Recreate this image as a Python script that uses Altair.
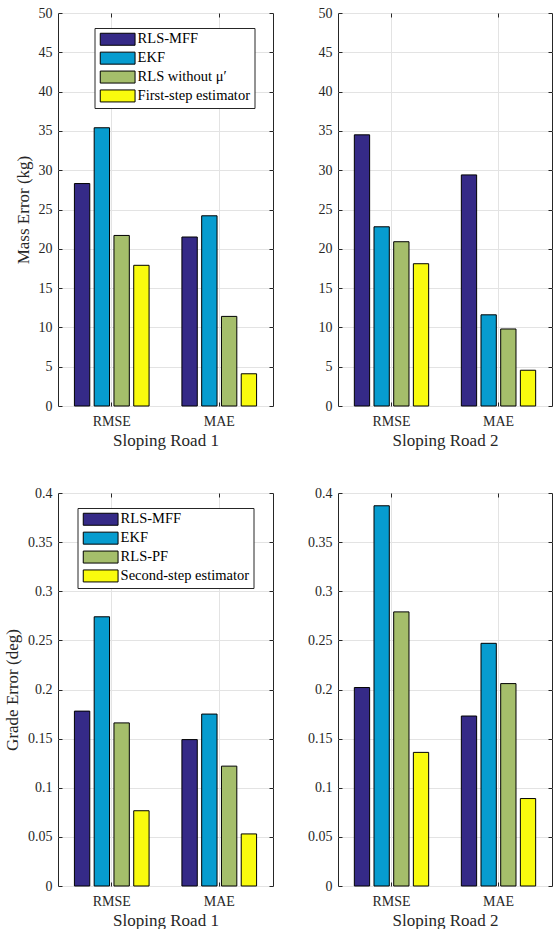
import altair as alt
import pandas as pd

metrics = ["RMSE", "MAE"]
mass_methods = ["RLS-MFF", "EKF", "RLS without μ′", "First-step estimator"]
grade_methods = ["RLS-MFF", "EKF", "RLS-PF", "Second-step estimator"]
colors = ["#352A87", "#079CCF", "#A5BE6B", "#F9FB0E"]

mass_road1_rmse = [28.3, 35.4, 21.7, 17.9]
mass_road1_mae = [21.5, 24.2, 11.4, 4.1]
mass_road2_rmse = [34.5, 22.8, 20.9, 18.1]
mass_road2_mae = [29.4, 11.6, 9.8, 4.55]
grade_road1_rmse = [0.178, 0.274, 0.166, 0.0766]
grade_road1_mae = [0.149, 0.175, 0.122, 0.053]
grade_road2_rmse = [0.202, 0.387, 0.279, 0.136]
grade_road2_mae = [0.173, 0.247, 0.206, 0.089]

mass_ticks = [0, 5, 10, 15, 20, 25, 30, 35, 40, 45, 50]
grade_ticks = [0, 0.05, 0.1, 0.15, 0.2, 0.25, 0.3, 0.35, 0.4]

FONT = "Liberation Serif"
TXT = "#262626"
GRID = "#e3e3e3"


def panel(methods, rmse, mae, ytitle, xtitle, ticks, fmt, width, legend_x):
    df = pd.DataFrame({
        "metric": ["RMSE"] * 4 + ["MAE"] * 4,
        "method": methods * 2,
        "value": rmse + mae,
    })
    base = alt.Chart(df)
    xscale = alt.Scale(paddingInner=0, paddingOuter=0)
    yscale = alt.Scale(domain=[ticks[0], ticks[-1]], nice=False)
    if legend_x is not None:
        legend = alt.Legend(
            title=None, orient="none", legendX=legend_x, legendY=15,
            symbolType="M-2.9,-1H2.9V1H-2.9Z", symbolSize=144,
            symbolOffset=11.9,
            symbolStrokeColor="#000", symbolStrokeWidth=1, symbolOpacity=1,
            labelFont=FONT, labelFontSize=14.5, labelColor="#000",
            labelLimit=400, labelOffset=12.7, padding=4, rowPadding=1.9,
            fillColor="#ffffff", strokeColor="#262626",
        )
    else:
        legend = None
    bars = base.mark_bar(stroke="#000", strokeWidth=1, opacity=1).encode(
        x=alt.X("metric:N", sort=metrics, scale=xscale,
                axis=alt.Axis(title=xtitle, orient="bottom", bandPosition=0.5,
                              grid=True, gridColor=GRID, offset=-4, tickSize=4,
                              tickColor=TXT, domain=False, labelAngle=0,
                              labelFont=FONT, labelFontSize=14, labelColor=TXT,
                              labelPadding=8, titleFont=FONT, titleFontSize=17,
                              titleFontWeight="normal", titleColor=TXT,
                              titlePadding=4)),
        xOffset=alt.XOffset("method:N", sort=methods,
                            scale=alt.Scale(domain=methods, paddingInner=0.223,
                                            paddingOuter=0.83)),
        y=alt.Y("value:Q", scale=yscale,
                axis=alt.Axis(title=ytitle, orient="left", values=ticks, format=fmt,
                              grid=True, gridColor=GRID, offset=-4, tickSize=4,
                              tickColor=TXT, domain=False, labelFont=FONT,
                              labelFontSize=14, labelColor=TXT, labelPadding=6,
                              titleFont=FONT, titleFontSize=17,
                              titleFontWeight="normal", titleColor=TXT,
                              titlePadding=6)),
        color=alt.Color("method:N", sort=methods,
                        scale=alt.Scale(domain=methods, range=colors),
                        legend=legend),
    )
    frame = base.mark_point(opacity=0).encode(
        x=alt.X("metric:N", sort=metrics, scale=xscale,
                axis=alt.Axis(title=None, orient="top", bandPosition=0.5,
                              grid=False, offset=-4, tickSize=4, tickColor=TXT,
                              domain=False, labels=False)),
        y=alt.Y("value:Q", scale=yscale,
                axis=alt.Axis(title=None, orient="right", values=ticks,
                              grid=False, offset=-4, tickSize=4, tickColor=TXT,
                              domain=False, labels=False)),
    )
    return alt.layer(bars, frame).resolve_axis(x="independent", y="independent").properties(
        width=width, height=393)


tl = panel(mass_methods, mass_road1_rmse, mass_road1_mae, "Mass Error (kg)",
           "Sloping Road 1", mass_ticks, "d", 215, 36.5)
tr = panel(mass_methods, mass_road2_rmse, mass_road2_mae, None,
           "Sloping Road 2", mass_ticks, "d", 214, None)
bl = panel(grade_methods, grade_road1_rmse, grade_road1_mae, "Grade Error (deg)",
           "Sloping Road 1", grade_ticks, ".2~f", 215, 19.5)
br = panel(grade_methods, grade_road2_rmse, grade_road2_mae, None,
           "Sloping Road 2", grade_ticks, ".2~f", 214, None)

chart = alt.concat(tl, tr, bl, br, columns=2, spacing={"row": 36, "column": 33}).resolve_scale(
    color="independent", xOffset="independent"
).properties(
    padding={"left": 3, "top": 5, "right": 0, "bottom": 0},
    background="#ffffff",
).configure_view(stroke=TXT, strokeWidth=1)

chart.save("out.html", embed_options={"renderer": "svg", "actions": False})
